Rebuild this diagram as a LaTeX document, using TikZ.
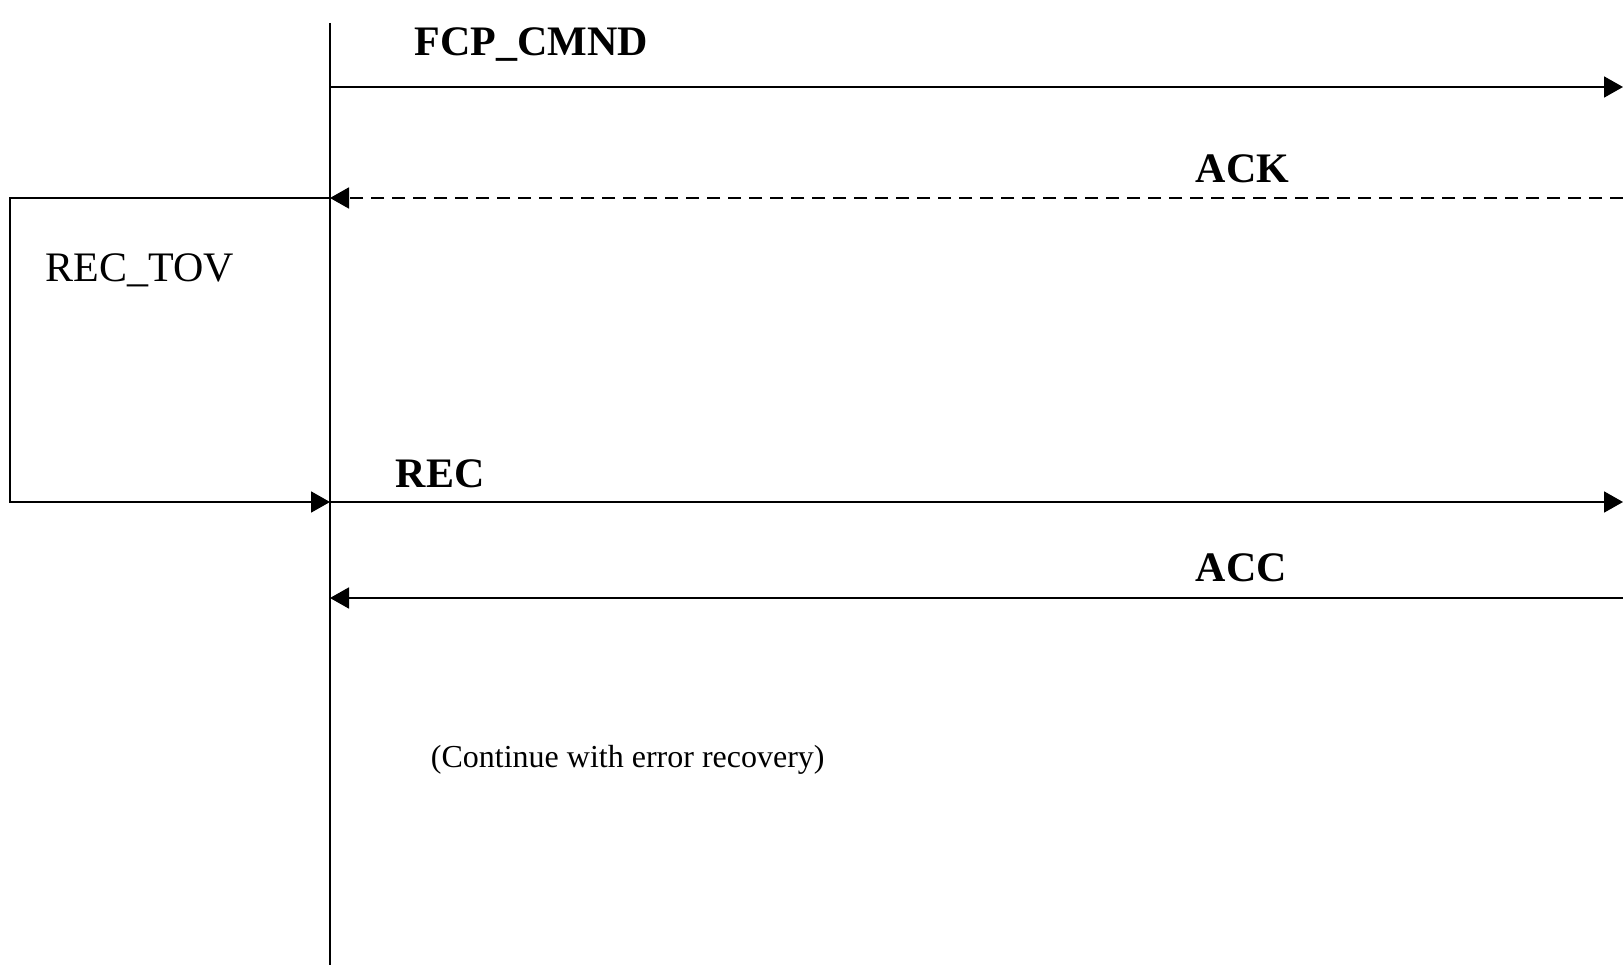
\documentclass[tikz,border=0pt]{standalone}
\usepackage{fontspec}
\setmainfont{Liberation Serif}
\usetikzlibrary{arrows.meta}
\begin{document}
\begin{tikzpicture}[x=1pt,y=-1pt,
  line width=1.9pt,
  tip/.style={-{Triangle[length=19pt,width=21pt]}},
  msg/.style={font=\fontsize{42}{48}\selectfont\bfseries, inner sep=0pt},
  plain/.style={font=\fontsize{42}{48}\selectfont, inner sep=0pt},
  note/.style={font=\fontsize{32}{38}\selectfont, inner sep=0pt}]
  \useasboundingbox (0,0) rectangle (1623,965);

  % lifeline and message end points
  \coordinate (lifeTop) at (330,23);
  \coordinate (lifeBot) at (330,965);
  \coordinate (cmdL) at (330,87);   \coordinate (cmdR) at (1623,87);
  \coordinate (ackL) at (330,198);  \coordinate (ackR) at (1623,198);
  \coordinate (recL) at (330,502);  \coordinate (recR) at (1623,502);
  \coordinate (accL) at (330,598);  \coordinate (accR) at (1623,598);
  \coordinate (boxTL) at (10,198);  \coordinate (boxBL) at (10,502);

  \draw (lifeTop) -- (lifeBot);

  % messages
  \draw[tip] (cmdL) -- (cmdR);
  \draw[tip, dash pattern=on 13pt off 8pt] (ackR) -- (ackL);
  \draw[tip] (recL) -- (recR);
  \draw[tip] (accR) -- (accL);

  % REC_TOV timer
  \draw[tip] (ackL) -- (boxTL) -- (boxBL) -- (recL);

  % labels
  \node[msg, anchor=west] (lblCmd) at (414,45) {FCP\_CMND};
  \node[msg, anchor=west] (lblAck) at (1195,169) {ACK};
  \node[msg, anchor=west] (lblRec) at (395,474) {REC};
  \node[msg, anchor=west] (lblAcc) at (1195,568) {ACC};
  \node[plain, anchor=west] (lblTov) at (45,270) {REC\_TOV};
  \node[note, anchor=west] (lblNote) at (430,760) {(Continue with error recovery)};
\end{tikzpicture}
\end{document}
